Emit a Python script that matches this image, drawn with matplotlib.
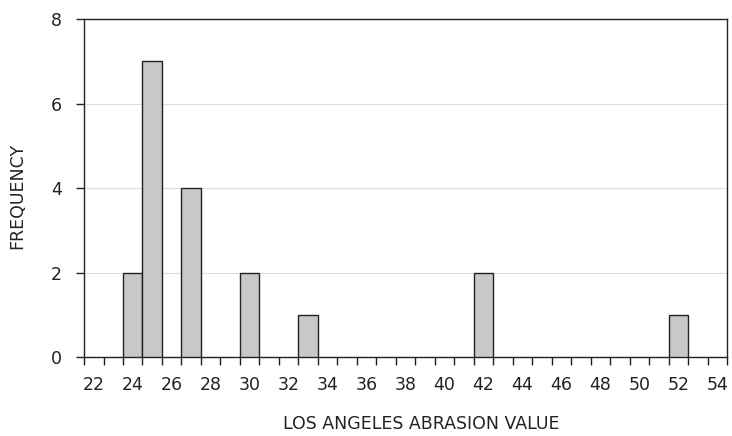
import matplotlib.pyplot as plt
import numpy as np

# abrasion value categories (22..54) and frequency per value
abrasion_values = [24, 25, 27, 30, 33, 42, 52]
frequencies = [2, 7, 4, 2, 1, 2, 1]
x_tick_labels = list(range(22, 55, 2))
y_ticks = [0, 2, 4, 6, 8]

INK = "#222222"
plt.rcParams["font.family"] = ["DejaVu Sans"]

fig = plt.figure(figsize=(7.32, 4.36), dpi=100)
ax = fig.add_axes([0.1148, 0.1812, 0.8784, 0.7752])

ax.bar(abrasion_values, frequencies, width=1.0, color="#c8c8c8", edgecolor=INK, linewidth=1.0, zorder=3)

ax.set_xlim(21.5, 54.5)
ax.set_ylim(0, 8)

# tick marks between categories, labels on every second category
ax.set_xticks(np.arange(21.5, 55, 1.0), minor=True)
ax.set_xticks(x_tick_labels)
ax.set_xticklabels([str(v) for v in x_tick_labels], fontsize=12.5, color=INK)
ax.tick_params(axis="x", which="major", length=0, pad=14)
ax.tick_params(axis="x", which="minor", length=6, width=1.0, color=INK, direction="out")

ax.set_yticks(y_ticks)
ax.set_yticklabels([str(v) for v in y_ticks], fontsize=12.5, color=INK)
ax.tick_params(axis="y", length=6, width=1.0, color=INK, direction="out", pad=10)

ax.grid(axis="y", color="#dddddd", linewidth=0.8, zorder=0)
ax.set_axisbelow(True)
for spine in ax.spines.values():
    spine.set_color(INK)
    spine.set_linewidth(1.0)

fig.text(421 / 732, 1 - 424 / 436, "LOS ANGELES ABRASION VALUE", fontsize=12.5, color=INK, ha="center", va="center")
fig.text(17 / 732, 1 - 196 / 436, "FREQUENCY", fontsize=12.5, color=INK, ha="center", va="center", rotation=90)

fig.savefig("out.png", dpi=100)
